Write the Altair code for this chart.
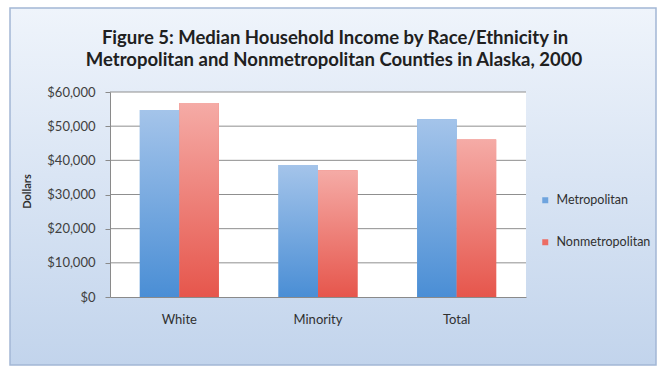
import altair as alt
import pandas as pd

categories = ["White", "Minority", "Total"]
series = ["Metropolitan", "Nonmetropolitan"]
metro = [54700, 38600, 52000]
nonmetro = [56800, 37100, 46100]
y_ticks = [0, 10000, 20000, 30000, 40000, 50000, 60000]
title_lines = [
    "Figure 5: Median Household Income by Race/Ethnicity in",
    "Metropolitan and Nonmetropolitan Counties in Alaska, 2000",
]

rows = []
for c, m, n in zip(categories, metro, nonmetro):
    rows.append({"Category": c, "Area": series[0], "Income": m})
    rows.append({"Category": c, "Area": series[1], "Income": n})
df = pd.DataFrame(rows)

W, H = 416, 205
FONT = "Lato"

yscale = alt.Scale(domain=[0, 60000])
yaxis = alt.Axis(
    title="Dollars", values=y_ticks, format="$,d", grid=False, zindex=1,
    labelFont=FONT, labelFontSize=13, labelColor="#404040", labelPadding=10,
    tickSize=5, tickColor="#8a8a8a", domainColor="#8a8a8a",
    titleFont=FONT, titleFontSize=11, titleFontWeight="bold", titleColor="#303030",
    titleX=-83, titleY=99, titleAlign="center", titleBaseline="middle",
)
xscale = alt.Scale(paddingInner=0, paddingOuter=0)
xaxis = alt.Axis(
    title=None, labelAngle=0, ticks=False, zindex=1, domainColor="#8a8a8a",
    labelFont=FONT, labelFontSize=13, labelColor="#303030", labelPadding=16,
)
offscale = alt.Scale(paddingInner=0, paddingOuter=0.755)


def grad(top, bottom):
    return alt.Gradient(
        gradient="linear",
        stops=[alt.GradientStop(color=top, offset=0), alt.GradientStop(color=bottom, offset=1)],
        x1=0, x2=0, y1=0, y2=1,
    )


one = pd.DataFrame({"k": [0]})
bg = alt.Chart(one).mark_rect(
    fill=grad("#eff4fb", "#c2d4ec"), stroke="#a2b7d5", strokeWidth=1.5
).encode(x=alt.value(-100), x2=alt.value(546), y=alt.value(-84), y2=alt.value(273))

plotbg = alt.Chart(one).mark_rect(fill="white").encode(
    x=alt.value(0), x2=alt.value(W), y=alt.value(0), y2=alt.value(H)
)

title1 = alt.Chart(pd.DataFrame({"t": [title_lines[0]]})).mark_text(
    font=FONT, fontSize=18.5, fontWeight="bold", color="#202020", align="center", baseline="middle"
).encode(text="t:N", x=alt.value(W / 2 + 17), y=alt.value(-54))
title2 = alt.Chart(pd.DataFrame({"t": [title_lines[1]]})).mark_text(
    font=FONT, fontSize=18.5, fontWeight="bold", color="#202020", align="center", baseline="middle"
).encode(text="t:N", x=alt.value(W / 2 + 16), y=alt.value(-32))

grid = alt.Chart(pd.DataFrame({"v": y_ticks[1:]})).mark_rule(
    color="#8f8f8f", strokeWidth=1
).encode(y=alt.Y("v:Q", scale=yscale, axis=yaxis))

base_enc = dict(
    x=alt.X("Category:N", sort=categories, scale=xscale, axis=xaxis),
    xOffset=alt.XOffset("Area:N", sort=series, scale=offscale),
    y=alt.Y("Income:Q", scale=yscale, axis=yaxis),
)

bars = alt.Chart(df).mark_bar().encode(
    color=alt.Color(
        "Area:N", sort=series,
        scale=alt.Scale(domain=series, range=["#6fa4de", "#ec6c64"]),
        legend=alt.Legend(
            title=None, orient="none", legendX=429, legendY=102, zindex=1,
            symbolType="square", symbolSize=36, symbolStrokeWidth=0,
            labelFont=FONT, labelFontSize=12.5, labelColor="#303030",
            rowPadding=29, labelOffset=5,
        ),
    ),
    **base_enc,
)

blue = alt.Chart(df).transform_filter(alt.datum.Area == series[0]).mark_bar(
    fill=grad("#a4c4ea", "#4a8ed5")
).encode(**base_enc)
red = alt.Chart(df).transform_filter(alt.datum.Area == series[1]).mark_bar(
    fill=grad("#f5aba6", "#e6564c")
).encode(**base_enc)

chart = alt.layer(bg, plotbg, title1, title2, grid, bars, blue, red).properties(
    width=W, height=H,
    autosize=alt.AutoSizeParams(type="none"),
    padding={"left": 110, "top": 92, "right": 138, "bottom": 69},
    background="white",
).configure_view(stroke=None)

chart.save("out.html", embed_options={"renderer": "svg", "actions": False})
